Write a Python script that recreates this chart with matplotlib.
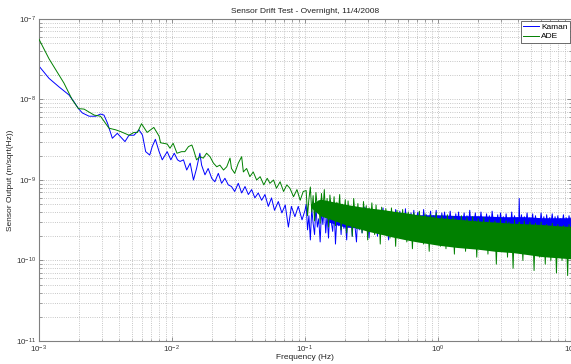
import numpy as np
import matplotlib.pyplot as plt
from matplotlib.ticker import LogLocator, NullFormatter

plt.rcParams['font.family'] = ['Liberation Sans', 'DejaVu Sans']

# amplitudes are in units of 1e-10 m/sqrt(Hz)
kaman_f_lo = [1.0e-3, 1.19e-3, 1.41e-3, 1.68e-3, 1.83e-3, 1.98e-3, 2.12e-3, 2.38e-3, 2.67e-3, 2.9e-3,
              3.08e-3, 3.27e-3, 3.56e-3, 3.88e-3, 4.43e-3, 4.75e-3, 5.18e-3, 5.65e-3, 6.0e-3, 6.34e-3,
              6.8e-3, 7.1e-3, 7.5e-3, 8.0e-3, 8.45e-3, 9.2e-3, 9.8e-3, 1.04e-2, 1.1e-2, 1.15e-2,
              1.22e-2, 1.29e-2, 1.37e-2, 1.45e-2, 1.53e-2, 1.62e-2, 1.67e-2, 1.77e-2, 1.87e-2, 1.99e-2,
              2.1e-2, 2.23e-2, 2.36e-2, 2.5e-2, 2.65e-2, 2.8e-2, 2.96e-2, 3.15e-2, 3.34e-2, 3.54e-2,
              3.75e-2, 3.97e-2, 4.2e-2, 4.45e-2, 4.72e-2, 5.0e-2, 5.3e-2, 5.6e-2, 5.9e-2, 6.3e-2,
              6.7e-2, 7.1e-2, 7.5e-2, 7.9e-2, 8.4e-2, 8.9e-2, 9.5e-2, 1.0e-1]
kaman_lo = [260, 183, 144, 114, 94, 77, 68, 62, 62, 66,
            64, 51, 33, 38, 30, 36, 36, 42, 36, 22.5,
            20.4, 26, 32, 22.5, 17.8, 22.5, 17.8, 21.5, 17.8, 17,
            17.8, 13.3, 16.2, 10, 13.9, 21.5, 15.3, 11.6, 13.9, 10.5,
            9.5, 12.1, 9.1, 10.5, 8.7, 8.3, 7.2, 9.1, 6.9, 8.3,
            6.6, 7.6, 6.0, 6.9, 5.6, 6.6, 4.7, 6.0, 4.2, 5.4,
            3.9, 4.9, 2.6, 4.7, 3.5, 4.7, 3.2, 4.2]

ade_f_lo = [1.0e-3, 1.19e-3, 1.54e-3, 1.78e-3, 1.98e-3, 2.18e-3, 2.6e-3, 2.9e-3, 3.36e-3, 3.77e-3,
            4.1e-3, 4.75e-3, 5.18e-3, 5.5e-3, 5.9e-3, 6.5e-3, 7.3e-3, 8.0e-3, 8.2e-3, 9.2e-3,
            9.66e-3, 1.02e-2, 1.09e-2, 1.18e-2, 1.25e-2, 1.33e-2, 1.41e-2, 1.45e-2, 1.53e-2, 1.62e-2,
            1.72e-2, 1.82e-2, 1.93e-2, 2.05e-2, 2.17e-2, 2.29e-2, 2.44e-2, 2.58e-2, 2.73e-2, 2.8e-2,
            2.96e-2, 3.15e-2, 3.34e-2, 3.44e-2, 3.64e-2, 3.85e-2, 4.08e-2, 4.33e-2, 4.6e-2, 4.9e-2,
            5.2e-2, 5.45e-2, 5.8e-2, 6.1e-2, 6.5e-2, 6.9e-2, 7.3e-2, 7.7e-2, 8.2e-2, 8.7e-2,
            9.2e-2, 9.7e-2]
ade_lo = [560, 320, 160, 99, 77, 76, 64, 62, 44, 42,
          40, 36, 39, 39, 50, 39, 45, 35, 29, 28,
          24.8, 28.6, 21.5, 22.5, 22.5, 26, 27.2, 24, 17.8, 19.5,
          18.7, 21.5, 19.5, 16.2, 14.6, 15.3, 13.3, 14.6, 18.7, 13.9,
          12.1, 16.2, 19.5, 12.6, 13.9, 11, 12.6, 10, 11, 8.7,
          10.5, 9.1, 10, 7.9, 9.5, 7.2, 8.7, 7.9, 6.2, 7.6,
          5.6, 7.2]

# dense part of both spectra (shared frequency bins)
f_hi = [0.102, 0.1045, 0.107, 0.1097, 0.1124, 0.1151, 0.118, 0.1208, 0.1238, 0.1268,
        0.13, 0.133, 0.1363, 0.1397, 0.1431, 0.1466, 0.1502, 0.1539, 0.1576, 0.1615,
        0.1655, 0.1695, 0.1737, 0.1779, 0.1823, 0.1868, 0.1913, 0.196, 0.2008, 0.2058,
        0.2108, 0.216, 0.2213, 0.2267, 0.2323, 0.238, 0.2438, 0.2498, 0.2559, 0.2622,
        0.2686, 0.2752, 0.2819, 0.2888, 0.2959, 0.3032, 0.3106, 0.3182, 0.326, 0.334,
        0.3422, 0.3506, 0.3592, 0.368, 0.377, 0.3862, 0.3957, 0.4054, 0.4153, 0.4255,
        0.4359, 0.4466, 0.4576, 0.4688, 0.4803, 0.492, 0.5041, 0.5165, 0.5291, 0.5421,
        0.5554, 0.569, 0.5829, 0.5972, 0.6118, 0.6268, 0.6422, 0.6579, 0.674, 0.6906,
        0.7075, 0.7248, 0.7426, 0.7608, 0.7794, 0.7985, 0.8181, 0.8381, 0.8587, 0.8797,
        0.9013, 0.9233, 0.946, 0.9691, 0.9929, 1.017, 1.042, 1.068, 1.094, 1.121,
        1.148, 1.176, 1.205, 1.235, 1.265, 1.296, 1.328, 1.36, 1.394, 1.428,
        1.463, 1.499, 1.535, 1.573, 1.611, 1.651, 1.691, 1.733, 1.775, 1.819,
        1.863, 1.909, 1.956, 2.004, 2.053, 2.103, 2.155, 2.207, 2.262, 2.317,
        2.374, 2.432, 2.491, 2.552, 2.615, 2.679, 2.745, 2.812, 2.881, 2.951,
        3.024, 3.098, 3.174, 3.251, 3.331, 3.413, 3.496, 3.582, 3.67, 3.76,
        3.852, 3.946, 4.043, 4.08, 4.12, 4.243, 4.347, 4.454, 4.563, 4.675,
        4.789, 4.907, 5.027, 5.15, 5.276, 5.406, 5.538, 5.674, 5.813, 5.955,
        6.101, 6.251, 6.404, 6.561, 6.722, 6.886, 7.055, 7.228, 7.405, 7.587,
        7.773, 7.963, 8.158, 8.358, 8.563, 8.773, 8.988, 9.208, 9.434, 9.665,
        9.9, 10.0]
kaman_hi = [5.0, 2.4, 3.6, 1.8, 4.4, 2.9, 2.1, 4.7, 2.6, 3.3,
            1.7, 4.1, 2.8, 4.9, 2.2, 3.7, 1.9, 4.3, 3.0, 2.3,
            4.5, 1.6, 3.5, 2.7, 4.0, 2.1, 4.6, 2.5, 3.2, 1.8,
            4.2, 2.9, 3.8, 2.0, 4.4, 2.6, 1.7, 3.9, 2.4, 4.1,
            2.2, 3.4, 4.6, 2.5, 3.1, 1.9, 4.0, 2.8, 4.3, 2.3,
            3.6, 2.0, 4.2, 2.7, 3.3, 4.5, 2.2, 3.8, 2.5, 1.8,
            4.0, 2.6, 3.5, 2.1, 4.3, 3.0, 2.4, 4.1, 2.8, 3.6,
            2.2, 4.4, 2.6, 3.2, 2.0, 3.9, 2.7, 4.2, 2.3, 3.5,
            4.0, 2.5, 3.3, 2.1, 4.3, 2.8, 3.7, 2.4, 3.1, 4.1,
            2.3, 3.6, 2.7, 4.2, 2.5, 3.3, 2.2, 3.9, 2.9, 4.0,
            2.4, 3.5, 2.8, 4.1, 2.6, 3.2, 2.3, 3.8, 2.7, 4.0,
            2.5, 3.4, 2.9, 3.9, 2.4, 3.6, 2.7, 4.2, 2.5, 3.3,
            2.8, 3.9, 2.4, 3.5, 2.6, 4.0, 2.8, 3.4, 2.5, 3.8,
            2.7, 3.6, 2.4, 4.1, 2.9, 3.3, 2.5, 3.7, 2.6, 3.9,
            2.8, 3.5, 2.4, 3.8, 2.7, 3.3, 2.5, 4.0, 2.6, 3.6,
            2.9, 3.4, 2.5, 5.9, 2.7, 3.7, 2.4, 3.5, 2.8, 3.9,
            2.6, 3.4, 2.8, 3.8, 2.4, 3.6, 2.7, 3.3, 2.5, 3.9,
            2.8, 3.5, 2.4, 3.7, 2.6, 3.4, 2.9, 3.8, 2.5, 3.5,
            2.7, 3.6, 2.4, 3.3, 2.8, 3.7, 2.5, 3.4, 2.6, 3.6,
            2.8, 3.4]
ade_hi = [7.4, 3.6, 5.8, 8.2, 4.0, 6.4, 3.1, 7.0, 4.6, 5.5,
          2.9, 6.8, 4.2, 7.6, 3.4, 5.9, 2.6, 6.5, 4.4, 3.2,
          6.2, 2.7, 5.3, 3.8, 6.6, 2.4, 5.0, 3.5, 5.7, 2.2,
          5.5, 3.2, 4.6, 2.0, 5.9, 3.6, 2.5, 5.1, 2.9, 4.4,
          2.2, 5.4, 3.3, 4.8, 1.8, 4.5, 2.7, 5.2, 3.0, 2.1,
          4.9, 2.5, 4.2, 1.6, 4.6, 3.0, 2.2, 4.4, 2.6, 3.8,
          1.9, 4.5, 2.8, 3.9, 1.5, 4.2, 2.4, 3.6, 2.0, 4.3,
          2.6, 3.8, 1.7, 4.0, 2.3, 3.3, 1.4, 3.9, 2.7, 3.5,
          1.8, 4.1, 2.2, 3.4, 1.6, 3.8, 2.5, 3.2, 1.3, 3.7,
          2.1, 3.5, 1.7, 3.9, 2.4, 3.0, 1.5, 3.6, 2.0, 3.3,
          1.4, 3.7, 2.2, 3.1, 1.8, 3.5, 1.2, 3.3, 2.3, 2.9,
          1.6, 3.6, 2.0, 3.2, 1.3, 3.4, 2.1, 2.8, 1.5, 3.5,
          1.9, 3.1, 1.1, 3.3, 2.2, 2.7, 1.4, 3.4, 1.8, 3.0,
          1.2, 3.2, 2.0, 2.8, 1.5, 3.1, 0.9, 2.9, 1.9, 3.3,
          1.4, 2.7, 1.7, 3.1, 1.1, 3.0, 2.0, 2.6, 0.8, 3.2,
          1.6, 2.8, 1.3, 3.0, 1.9, 2.5, 1.0, 3.1, 1.7, 2.7,
          1.2, 3.0, 1.8, 2.6, 0.75, 2.9, 1.5, 2.4, 1.1, 3.0,
          1.7, 2.6, 0.9, 2.8, 1.4, 2.5, 1.0, 2.9, 1.6, 2.4,
          0.7, 2.8, 1.3, 2.5, 1.0, 2.7, 1.5, 2.3, 0.65, 2.8,
          1.2, 2.6]

# where the traces are so dense that they read as a solid band
kaman_band_f = [0.15, 0.2, 0.3, 0.46, 0.7, 1.0, 1.5, 2.0, 3.0, 4.5, 6.0, 8.0, 10.0]
kaman_top = [3.3, 3.6, 3.8, 3.8, 3.7, 3.7, 3.6, 3.6, 3.5, 3.5, 3.4, 3.4, 3.4]
kaman_bot = [3.0, 2.6, 2.5, 2.5, 2.5, 2.5, 2.5, 2.5, 2.5, 2.5, 2.5, 2.5, 2.5]
ade_band_f = [0.11, 0.13, 0.16, 0.2, 0.25, 0.3, 0.38, 0.46, 0.58, 0.7, 0.85,
              1.0, 1.4, 2.0, 2.7, 3.7, 4.8, 6.0, 8.0, 10.0]
ade_top = [5.0, 5.8, 5.4, 5.0, 4.7, 4.5, 4.3, 4.1, 3.9, 3.7, 3.55,
           3.4, 3.25, 3.1, 3.0, 2.9, 2.85, 2.8, 2.7, 2.65]
ade_bot = [4.6, 3.6, 3.2, 2.8, 2.5, 2.3, 2.1, 1.95, 1.8, 1.7, 1.62,
           1.55, 1.45, 1.38, 1.3, 1.25, 1.18, 1.12, 1.08, 1.05]

scale = 1e-10
kaman_f = np.array(kaman_f_lo + f_hi)
kaman = np.array(kaman_lo + kaman_hi) * scale
ade_f = np.array(ade_f_lo + f_hi)
ade = np.array(ade_lo + ade_hi) * scale

blue = '#0000ff'
green = '#008000'
txt = '#222222'

fig = plt.figure(figsize=(5.71, 3.64), dpi=100)
ax = fig.add_axes([0.0683, 0.0632, 0.9317, 0.8846])

ax.fill_between(kaman_band_f, np.array(kaman_bot) * scale, np.array(kaman_top) * scale,
                color=blue, linewidth=0, zorder=2)
ax.plot(kaman_f, kaman, color=blue, linewidth=0.7, label='Kaman', zorder=2)
ax.fill_between(ade_band_f, np.array(ade_bot) * scale, np.array(ade_top) * scale,
                color=green, linewidth=0, zorder=3)
ax.plot(ade_f, ade, color=green, linewidth=0.7, label='ADE', zorder=3)

ax.set_xscale('log')
ax.set_yscale('log')
ax.set_xlim(1e-3, 1e1)
ax.set_ylim(1e-11, 1e-7)

ax.xaxis.set_major_locator(LogLocator(base=10, numticks=20))
ax.yaxis.set_major_locator(LogLocator(base=10, numticks=20))
ax.xaxis.set_minor_locator(LogLocator(base=10, subs=range(2, 10), numticks=20))
ax.yaxis.set_minor_locator(LogLocator(base=10, subs=range(2, 10), numticks=20))
ax.xaxis.set_minor_formatter(NullFormatter())
ax.yaxis.set_minor_formatter(NullFormatter())

ax.grid(True, which='both', linestyle=':', color='#b4b4b4', linewidth=0.6)
ax.set_axisbelow(True)
ax.tick_params(which='both', direction='in', top=True, right=True,
               colors='#808080', labelcolor='#333333', labelsize=5.8)
ax.tick_params(which='major', length=3, width=0.6, pad=2)
ax.tick_params(which='minor', length=1.8, width=0.5)
for s in ax.spines.values():
    s.set_color('#808080')
    s.set_linewidth(0.8)

ax.set_title('Sensor Drift Test - Overnight, 11/4/2008', fontsize=6.0, color=txt, pad=4)
ax.set_xlabel('Frequency (Hz)', fontsize=6.0, color=txt)
ax.set_ylabel('Sensor Output (m/sqrt(Hz))', fontsize=6.0, color=txt)
ax.xaxis.set_label_coords(0.5, -0.041)
ax.yaxis.set_label_coords(-0.047, 0.5)

leg = ax.legend(loc='upper right', bbox_to_anchor=(0.998, 0.995), fontsize=6.0,
                fancybox=False, framealpha=1, edgecolor='#555555', handlelength=1.9,
                borderaxespad=0.0, borderpad=0.3, labelspacing=0.2, handletextpad=0.2)
leg.get_frame().set_linewidth(0.6)

fig.savefig('out.png', dpi=100)
